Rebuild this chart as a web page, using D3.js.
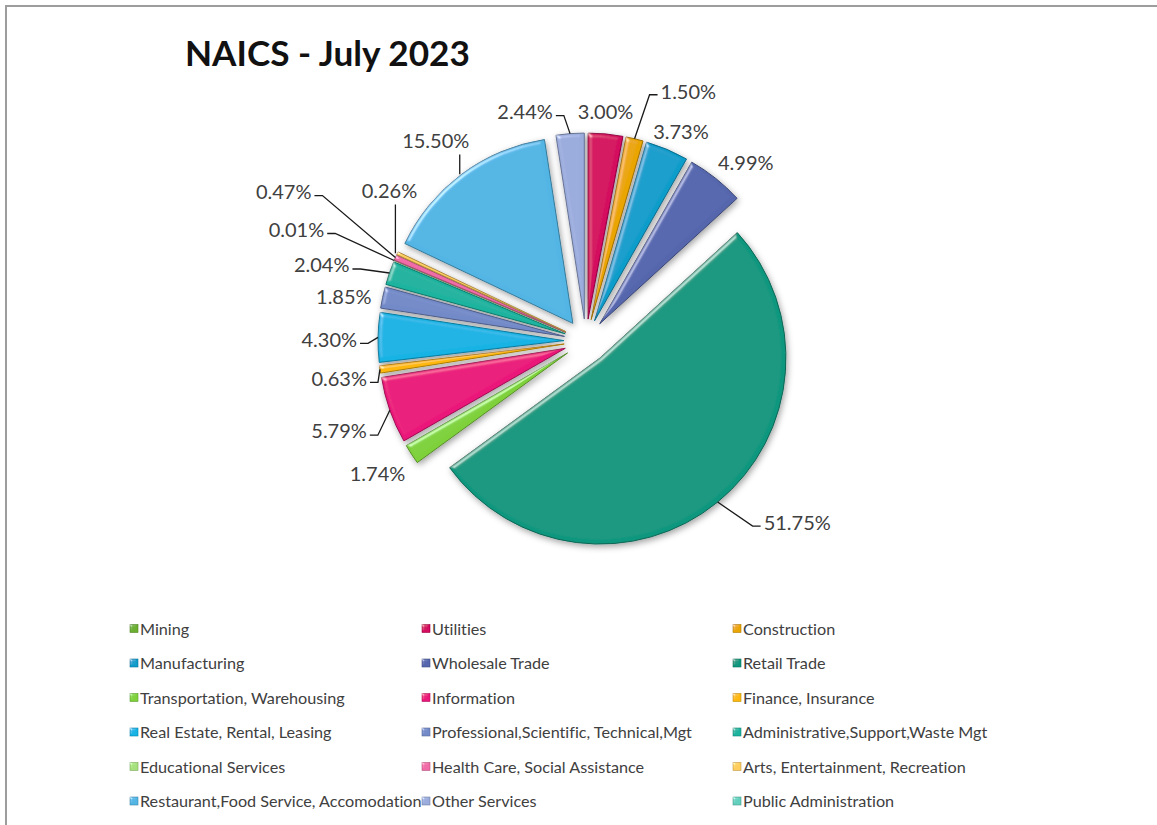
<!DOCTYPE html>
<html>
<head>
<meta charset="utf-8">
<script src="https://cdn.jsdelivr.net/npm/d3@7"></script>
<style>
  html, body { margin: 0; padding: 0; background: #ffffff; }
  svg { display: block; }
  text { font-variant-ligatures: none; }
</style>
</head>
<body>
<svg id="chart" width="1157" height="825"></svg>
<script>
// ---- data -------------------------------------------------------------
const title = "NAICS - July 2023";

const categories = [
  "Mining",
  "Utilities",
  "Construction",
  "Manufacturing",
  "Wholesale Trade",
  "Retail Trade",
  "Transportation, Warehousing",
  "Information",
  "Finance, Insurance",
  "Real Estate, Rental, Leasing",
  "Professional,Scientific, Technical,Mgt",
  "Administrative,Support,Waste Mgt",
  "Educational Services",
  "Health Care, Social Assistance",
  "Arts, Entertainment, Recreation",
  "Restaurant,Food Service, Accomodation",
  "Other Services",
  "Public Administration"
];

// share of total, percent
const shares = [0, 3.00, 1.50, 3.73, 4.99, 51.75, 1.74, 5.79, 0.63, 4.30, 1.85, 2.04, 0.01, 0.47, 0.26, 15.50, 2.44, 0];

// ---- styling ----------------------------------------------------------
const palette = [
  "#6aae2f", "#d4075f", "#eaa500", "#0f9dcb", "#5466ad", "#0e977e",
  "#7fd13b", "#ea157a", "#feb80a", "#12b3e4", "#738ac8", "#1ab39f",
  "#a6e07c", "#ef6ba6", "#fecd5c", "#52b5e4", "#9aabdc", "#62cfbd"
];

const W = 1157, H = 825;
const cx = 586, cy = 341;       // pie centre
const radius = 186;             // slice radius
const explode = 22;             // distance every slice is pulled out

// Label placement: offset of the label from the point where the slice's
// mid-angle meets its outer edge, the text anchor, and the leader style.
const labelPlacement = {
  "Utilities":                              { dx: 0,   dy: -22, anchor: "middle" },
  "Construction":                           { dx: 26,  dy: -47, anchor: "start", leader: "left" },
  "Manufacturing":                          { dx: 14,  dy: -18, anchor: "middle" },
  "Wholesale Trade":                        { dx: 30,  dy: -16, anchor: "middle" },
  "Retail Trade":                           { dx: 46,  dy: 21,  anchor: "start", leader: "left" },
  "Transportation, Warehousing":            { dx: -34, dy: 20,  anchor: "middle" },
  "Information":                            { dx: -23, dy: 21,  anchor: "end", leader: "right" },
  "Finance, Insurance":                     { dx: -13, dy: 9,   anchor: "end", leader: "right" },
  "Real Estate, Rental, Leasing":           { dx: -21, dy: 2,   anchor: "end", leader: "right" },
  "Professional,Scientific, Technical,Mgt": { dx: -11, dy: -1,  anchor: "end" },
  "Administrative,Support,Waste Mgt":       { dx: -40, dy: -8,  anchor: "end", leader: "right" },
  "Educational Services":                   { dx: -70, dy: -31, anchor: "end", leader: "right" },
  "Health Care, Social Assistance":         { dx: -84, dy: -66, anchor: "end", leader: "right" },
  "Arts, Entertainment, Recreation":        { dx: -8,  dy: -62, anchor: "middle", leader: "bottom" },
  "Restaurant,Food Service, Accomodation":  { dx: -26, dy: -33, anchor: "middle", leader: "bottom" },
  "Other Services":                         { dx: -45, dy: -22, anchor: "middle", leader: "right" }
};

const FONT = "Lato, 'Open Sans', 'Noto Sans', sans-serif";

// ---- svg setup --------------------------------------------------------
const svg = d3.select("#chart");
const defs = svg.append("defs");

// filters use a generous user-space region so translated shapes never clip
function region(f) {
  return f.attr("filterUnits", "userSpaceOnUse")
    .attr("x", -2000).attr("y", -2000).attr("width", 4000).attr("height", 4000);
}

// soft drop shadow under the slices
const shadow = region(defs.append("filter").attr("id", "shadow"));
shadow.append("feDropShadow")
  .attr("dx", 1.5).attr("dy", 2.5).attr("stdDeviation", 3)
  .attr("flood-color", "#000").attr("flood-opacity", 0.36);

// rounded bevel highlight on each slice
function bevelFilter(id, blur, scale, strength) {
  const f = region(defs.append("filter").attr("id", id));
  f.append("feGaussianBlur").attr("in", "SourceAlpha").attr("stdDeviation", blur).attr("result", "b");
  const spec = f.append("feSpecularLighting").attr("in", "b")
    .attr("surfaceScale", scale).attr("specularConstant", 0.9)
    .attr("specularExponent", 28).attr("lighting-color", "#ffffff").attr("result", "s");
  spec.append("feDistantLight").attr("azimuth", 225).attr("elevation", 30);
  f.append("feComposite").attr("in", "s").attr("in2", "SourceAlpha")
    .attr("operator", "in").attr("result", "si");
  f.append("feComposite").attr("in", "SourceGraphic").attr("in2", "si")
    .attr("operator", "arithmetic")
    .attr("k1", 0).attr("k2", 1).attr("k3", strength).attr("k4", 0);
}
bevelFilter("bevel", 2.2, 3, 0.5);
bevelFilter("bevelSmall", 0.8, 1.5, 0.45);

// frame
svg.append("rect")
  .attr("x", 6).attr("y", 6).attr("width", W + 20).attr("height", H + 20)
  .attr("fill", "none").attr("stroke", "#9d9d9d").attr("stroke-width", 2);

// title
svg.append("text")
  .attr("x", 185).attr("y", 66)
  .attr("font-family", FONT).attr("font-weight", 700)
  .attr("font-size", 35.2).attr("fill", "#111111")
  .text(title);

// ---- pie --------------------------------------------------------------
const rows = categories.map((name, i) => ({ name, value: shares[i], color: palette[i] }));

const pie = d3.pie().sort(null).value(d => d.value)
  .startAngle(0).endAngle(2 * Math.PI);
const arcs = pie(rows);

const arcGen = d3.arc().innerRadius(0).outerRadius(radius);

const unit = a => [Math.sin(a), -Math.cos(a)];
const midAngle = d => (d.startAngle + d.endAngle) / 2;

const pieG = svg.append("g")
  .attr("transform", `translate(${cx},${cy})`)
  .attr("filter", "url(#shadow)");

pieG.selectAll("path.slice")
  .data(arcs.filter(d => d.value > 0))
  .join("path")
  .attr("class", "slice")
  .attr("transform", d => {
    const [ux, uy] = unit(midAngle(d));
    return `translate(${ux * explode},${uy * explode})`;
  })
  .attr("d", arcGen)
  .attr("fill", d => d.data.color)
  .attr("stroke", d => d3.color(d.data.color).darker(1.1))
  .attr("stroke-width", 1)
  .attr("stroke-linejoin", "round")
  .attr("filter", "url(#bevel)");

// ---- data labels ------------------------------------------------------
const labelG = svg.append("g").attr("transform", `translate(${cx},${cy})`);
const fmt = d3.format(".2f");

arcs.filter(d => d.value > 0).forEach(d => {
  const place = labelPlacement[d.data.name];
  const [ux, uy] = unit(midAngle(d));
  const ax = ux * (radius + explode), ay = uy * (radius + explode);
  const lx = ax + place.dx, ly = ay + place.dy;

  const t = labelG.append("text")
    .attr("x", lx).attr("y", ly)
    .attr("dy", "0.36em")
    .attr("text-anchor", place.anchor)
    .attr("font-family", FONT).attr("font-size", 20)
    .attr("fill", "#404040")
    .text(fmt(d.value) + "%");

  if (!place.leader) return;
  const bb = t.node().getBBox();
  let pts;
  if (place.leader === "right") {
    const sx = bb.x + bb.width + 3, sy = ly + 4;
    pts = [[sx, sy], [sx + 8, sy], [ax, ay]];
  } else if (place.leader === "left") {
    const sx = bb.x - 3, sy = ly + 3;
    pts = [[sx, sy], [sx - 8, sy], [ax, ay]];
  } else {
    const sy = bb.y + bb.height + 2;
    pts = [[ax - 2, sy], [ax - 2, ay]];
  }
  labelG.append("path")
    .attr("d", d3.line()(pts))
    .attr("fill", "none")
    .attr("stroke", "#1a1a1a")
    .attr("stroke-width", 1.3);
});

// ---- legend -----------------------------------------------------------
const legendCols = [130, 422, 733];
const legendTop = 629, legendStep = 34.5;

const legend = svg.append("g");
rows.forEach((d, i) => {
  const col = i % 3, row = Math.floor(i / 3);
  const x = legendCols[col], y = legendTop + row * legendStep;
  legend.append("rect")
    .attr("x", x).attr("y", y - 4.5).attr("width", 8).attr("height", 8)
    .attr("fill", d.color)
    .attr("stroke", d3.color(d.color).darker(0.8)).attr("stroke-width", 0.6)
    .attr("filter", "url(#bevelSmall)");
  legend.append("text")
    .attr("x", x + 10).attr("y", y)
    .attr("dy", "0.35em")
    .attr("font-family", FONT).attr("font-size", 16.2)
    .attr("fill", "#404040")
    .text(d.name);
});
</script>
</body>
</html>
